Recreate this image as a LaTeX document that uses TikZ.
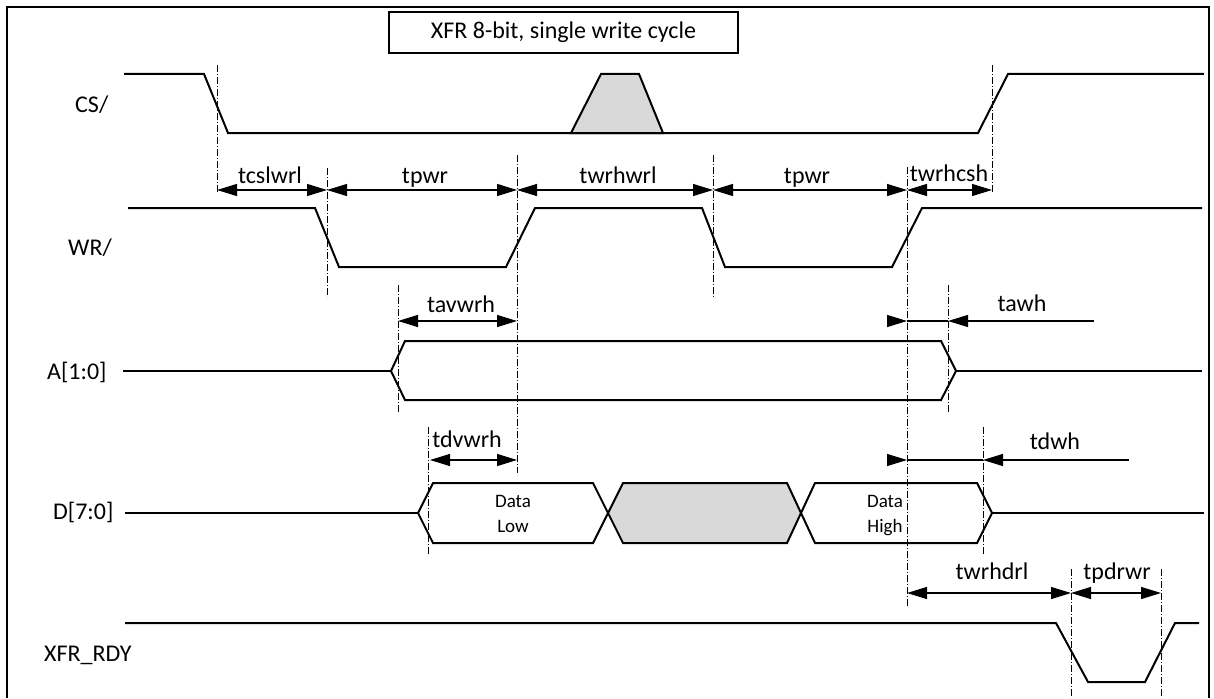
\documentclass[tikz,border=0pt]{standalone}
\usepackage{fontspec}
\setmainfont{Carlito}
\usetikzlibrary{arrows.meta}
\definecolor{fillgray}{HTML}{D9D9D9}
\tikzset{
  sig/.style={line width=2pt, line join=miter},
  guide/.style={line width=0.8pt, dash pattern=on 7pt off 2pt on 1pt off 2pt},
  dim/.style={line width=1.3pt},
  >={Triangle[length=20pt,width=12pt]},
  lbl/.style={font=\fontsize{24}{28}\selectfont, inner sep=0pt},
  dlbl/.style={font=\fontsize{24}{28}\selectfont, inner sep=0pt, anchor=base},
  slbl/.style={font=\fontsize{24}{28}\selectfont, inner sep=0pt, anchor=base west},
  small/.style={font=\fontsize{19}{24}\selectfont, inner sep=0pt, anchor=base},
}
\begin{document}
\begin{tikzpicture}[x=1pt,y=-1pt]
\useasboundingbox (0,0) rectangle (1214,698);
% frame
\draw[line width=2.5pt] (7,698) -- (7,7) -- (1209,7) -- (1209,698);
% title
\node[draw, line width=1.8pt, minimum width=349pt, minimum height=41pt, lbl] (title) at (563.5,32.5) {XFR 8-bit, single write cycle};

% signal labels
\node[slbl] (csl) at (75,113) {CS/};
\node[slbl] (wrl) at (68,255) {WR/};
\node[slbl] (al) at (47,379) {A[1:0]};
\node[slbl] (dl) at (53,519) {D[7:0]};
\node[slbl] (rdyl) at (44,661) {XFR\_RDY};

% guides
\draw[guide] (217,65) -- (217,193);
\draw[guide] (327,168) -- (327,297);
\draw[guide] (517,155) -- (517,473);
\draw[guide] (713,155) -- (713,297);
\draw[guide] (907,167) -- (907,607);
\draw[guide] (992,65) -- (992,193);
\draw[guide] (398,285) -- (398,412);
\draw[guide] (948,285) -- (948,412);
\draw[guide] (428,427) -- (428,555);
\draw[guide] (983,427) -- (983,555);
\draw[guide] (1071,569) -- (1071,698);
\draw[guide] (1161,569) -- (1161,698);

% CS/
\filldraw[sig, fill=fillgray] (571,133) -- (601,74) -- (639,74) -- (663,133) -- cycle;
\draw[sig] (124,74) -- (204,74) -- (228,133) -- (978,133) -- (1008,74) -- (1204,74);
% WR/
\draw[sig] (128,208) -- (315,208) -- (339,267) -- (506,267) -- (535,208) -- (702,208)
  -- (725,267) -- (892,267) -- (922,208) -- (1202,208);
% A[1:0]
\draw[sig] (123,371) -- (391,371);
\draw[sig] (391,371) -- (405,341) -- (941,341) -- (956,371) -- (941,400) -- (405,400) -- cycle;
\draw[sig] (956,371) -- (1202,371);
% D[7:0]
\draw[sig] (125,513) -- (418,513);
\draw[sig] (418,513) -- (433,483) -- (593,483) -- (608,513) -- (593,543) -- (433,543) -- cycle;
\filldraw[sig, fill=fillgray] (608,513) -- (623,483) -- (787,483) -- (801,513) -- (787,543) -- (623,543) -- cycle;
\draw[sig] (801,513) -- (815,483) -- (977,483) -- (992,513) -- (977,543) -- (815,543) -- cycle;
\draw[sig] (992,513) -- (1204,513);
\node[small] (dlo1) at (513,507) {Data};
\node[small] (dlo2) at (513,532) {Low};
\node[small] (dhi1) at (885,507) {Data};
\node[small] (dhi2) at (885,532) {High};
% XFR_RDY
\draw[sig] (125,623) -- (1056,623) -- (1088,682) -- (1145,682) -- (1175,623) -- (1199,623);

% dimension coordinates
\coordinate (r1a) at (217,190);
\coordinate (r1b) at (327,190);
\coordinate (r1c) at (517,190);
\coordinate (r1d) at (713,190);
\coordinate (r1e) at (907,190);
\coordinate (r1f) at (992,190);
\coordinate (r2a) at (398,321);
\coordinate (r2b) at (517,321);
\coordinate (r2c) at (887,321);
\coordinate (r2d) at (907,321);
\coordinate (r2e) at (948,321);
\coordinate (r2f) at (1094,321);
\coordinate (r3a) at (430,460);
\coordinate (r3b) at (517,460);
\coordinate (r3c) at (887,460);
\coordinate (r3d) at (907,460);
\coordinate (r3e) at (983,460);
\coordinate (r3f) at (1129,460);
\coordinate (r4a) at (907,593);
\coordinate (r4b) at (1071,593);
\coordinate (r4c) at (1161,593);

\draw[dim,<->] (r1a) -- (r1b);
\draw[dim,<->] (r1b) -- (r1c);
\draw[dim,<->] (r1c) -- (r1d);
\draw[dim,<->] (r1d) -- (r1e);
\draw[dim,<->] (r1e) -- (r1f);
\draw[dim,<->] (r2a) -- (r2b);
\draw[dim,->] (r2c) -- (r2d);
\draw[dim] (r2d) -- (r2e);
\draw[dim,<-] (r2e) -- (r2f);
\draw[dim,<->] (r3a) -- (r3b);
\draw[dim,->] (r3c) -- (r3d);
\draw[dim] (r3d) -- (r3e);
\draw[dim,<-] (r3e) -- (r3f);
\draw[dim,<->] (r4a) -- (r4b);
\draw[dim,<->] (r4b) -- (r4c);

% dimension labels
\node[dlbl] (t1) at (270,183) {tcslwrl};
\node[dlbl] (t2) at (425,183) {tpwr};
\node[dlbl] (t3) at (618,183) {twrhwrl};
\node[dlbl] (t4) at (807,183) {tpwr};
\node[dlbl] (t5) at (949,181) {twrhcsh};
\node[dlbl] (t6) at (461,312) {tavwrh};
\node[dlbl] (t7) at (1022,311) {tawh};
\node[dlbl] (t8) at (467,447) {tdvwrh};
\node[dlbl] (t9) at (1055,449) {tdwh};
\node[dlbl] (t10) at (992,579) {twrhdrl};
\node[dlbl] (t11) at (1117,579) {tpdrwr};
\end{tikzpicture}
\end{document}
